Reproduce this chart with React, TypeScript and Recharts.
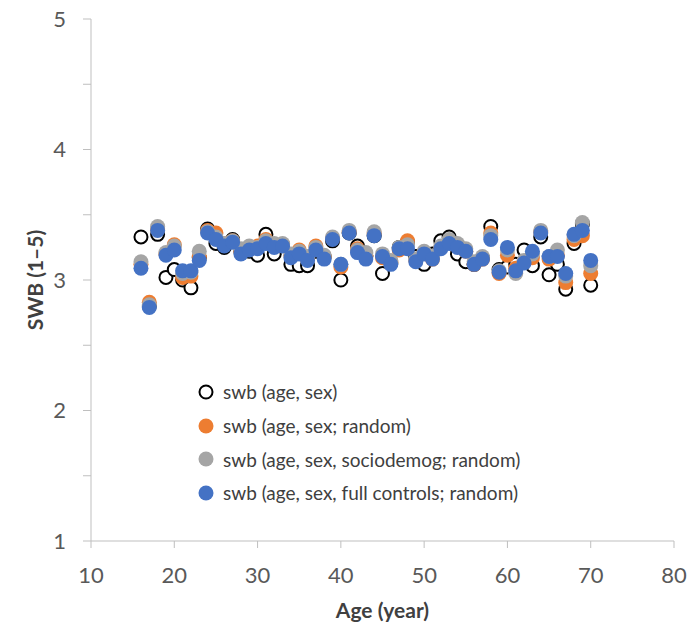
import { Scatter, ScatterChart, XAxis, YAxis } from "recharts";

const ages = [
  16, 17, 18, 19, 20, 21, 22, 23, 24, 25, 26, 27, 28, 29, 30, 31, 32, 33, 34, 35, 36, 37, 38, 39, 40, 41, 42,
  43, 44, 45, 46, 47, 48, 49, 50, 51, 52, 53, 54, 55, 56, 57, 58, 59, 60, 61, 62, 63, 64, 65, 66, 67, 68, 69, 70,
];

const swbAgeSex = [
  3.33, 2.8, 3.35, 3.02, 3.08, 3.0, 2.94, 3.17, 3.39, 3.28, 3.25, 3.31, 3.22, 3.22, 3.19, 3.35, 3.2, 3.27, 3.12,
  3.11, 3.11, 3.22, 3.18, 3.3, 3.0, 3.36, 3.26, 3.18, 3.34, 3.05, 3.13, 3.25, 3.29, 3.18, 3.12, 3.2, 3.3, 3.33,
  3.2, 3.14, 3.12, 3.17, 3.41, 3.08, 3.1, 3.12, 3.23, 3.11, 3.33, 3.04, 3.12, 2.93, 3.28, 3.43, 2.96,
];

const swbRandom = [
  3.12, 2.83, 3.39, 3.2, 3.27, 3.02, 3.03, 3.18, 3.38, 3.36, 3.28, 3.3, 3.22, 3.24, 3.26, 3.31, 3.27, 3.27, 3.19,
  3.23, 3.16, 3.26, 3.18, 3.32, 3.1, 3.37, 3.24, 3.19, 3.36, 3.17, 3.14, 3.23, 3.3, 3.15, 3.21, 3.16, 3.25, 3.3,
  3.27, 3.22, 3.12, 3.16, 3.36, 3.05, 3.19, 3.09, 3.14, 3.17, 3.37, 3.16, 3.19, 2.98, 3.31, 3.34, 3.05,
];

const swbSociodemog = [
  3.14, 2.81, 3.41, 3.21, 3.26, 3.05, 3.06, 3.22, 3.37, 3.33, 3.28, 3.3, 3.24, 3.26, 3.25, 3.3, 3.28, 3.28, 3.2,
  3.22, 3.18, 3.25, 3.19, 3.33, 3.12, 3.38, 3.23, 3.21, 3.37, 3.2, 3.15, 3.25, 3.27, 3.16, 3.22, 3.18, 3.26, 3.31,
  3.28, 3.24, 3.14, 3.18, 3.34, 3.07, 3.23, 3.05, 3.15, 3.2, 3.38, 3.18, 3.23, 3.03, 3.34, 3.44, 3.11,
];

const swbFullControls = [
  3.09, 2.79, 3.38, 3.19, 3.23, 3.07, 3.07, 3.15, 3.36, 3.31, 3.26, 3.29, 3.2, 3.23, 3.24, 3.28, 3.25, 3.26, 3.17,
  3.2, 3.15, 3.23, 3.16, 3.31, 3.12, 3.36, 3.21, 3.16, 3.34, 3.18, 3.12, 3.24, 3.24, 3.14, 3.2, 3.16, 3.24, 3.28,
  3.25, 3.22, 3.12, 3.16, 3.31, 3.06, 3.25, 3.07, 3.13, 3.22, 3.36, 3.18, 3.18, 3.05, 3.35, 3.38, 3.15,
];

const xTicks = [10, 20, 30, 40, 50, 60, 70, 80];
const yTicks = [1, 1.5, 2, 2.5, 3, 3.5, 4, 4.5, 5];

const series = [
  { name: "swb (age, sex)", values: swbAgeSex, fill: "#ffffff", stroke: "#000000" },
  { name: "swb (age, sex; random)", values: swbRandom, fill: "#ED7D31", stroke: "none" },
  { name: "swb (age, sex, sociodemog; random)", values: swbSociodemog, fill: "#A5A5A5", stroke: "none" },
  { name: "swb (age, sex, full controls; random)", values: swbFullControls, fill: "#4472C4", stroke: "none" },
];

const font = "Lato, 'Open Sans', sans-serif";
const axisColor = "#bfbfbf";
const tickStyle = { fontSize: 22, fill: "#595959", fontFamily: font };

function dot(fill: string, stroke: string) {
  return (props: any) => (
    <circle
      cx={props.cx}
      cy={props.cy}
      r={stroke === "none" ? 7.5 : 6.5}
      fill={fill}
      stroke={stroke}
      strokeWidth={stroke === "none" ? 0 : 2}
    />
  );
}

function LegendBox() {
  return (
    <div
      style={{
        position: "absolute",
        left: 196,
        top: 375,
        fontFamily: font,
        fontSize: 19,
        color: "#404040",
      }}
    >
      {series.map((s) => (
        <div key={s.name} style={{ display: "flex", alignItems: "center", height: 33.7 }}>
          <svg width={20} height={20} style={{ marginRight: 7 }}>
            <circle
              cx={10}
              cy={10}
              r={s.stroke === "none" ? 7.5 : 6.5}
              fill={s.fill}
              stroke={s.stroke}
              strokeWidth={s.stroke === "none" ? 0 : 2}
            />
          </svg>
          <span>{s.name}</span>
        </div>
      ))}
    </div>
  );
}

export default function App() {
  return (
    <div style={{ position: "absolute", left: 0, top: 0, width: 687, height: 625, background: "#fff" }}>
      <ScatterChart width={687} height={625} margin={{ top: 19, right: 13, bottom: 0, left: 0 }}>
        <XAxis
          type="number"
          dataKey="age"
          domain={[10, 80]}
          ticks={xTicks}
          interval={0}
          height={84}
          stroke={axisColor}
          tickSize={7}
          tickMargin={19}
          tick={tickStyle}
          label={{
            value: "Age (year)",
            position: "insideBottom",
            offset: 7,
            style: { fontSize: 21, fontWeight: 700, fill: "#404040", fontFamily: font },
          }}
        />
        <YAxis
          type="number"
          dataKey="swb"
          domain={[1, 5]}
          ticks={yTicks}
          interval={0}
          width={91}
          stroke={axisColor}
          tickSize={8}
          tickMargin={17}
          tick={tickStyle}
          tickFormatter={(v: number) => (Number.isInteger(v) ? String(v) : "")}
          label={{
            value: "SWB (1–5)",
            angle: -90,
            position: "insideLeft",
            offset: 36,
            style: { fontSize: 21, fontWeight: 700, fill: "#404040", fontFamily: font, textAnchor: "middle" },
          }}
        />
        {series.map((s) => (
          <Scatter
            key={s.name}
            name={s.name}
            data={ages.map((age, i) => ({ age, swb: s.values[i] }))}
            fill={s.fill}
            shape={dot(s.fill, s.stroke)}
            isAnimationActive={false}
          />
        ))}
      </ScatterChart>
      <LegendBox />
    </div>
  );
}
